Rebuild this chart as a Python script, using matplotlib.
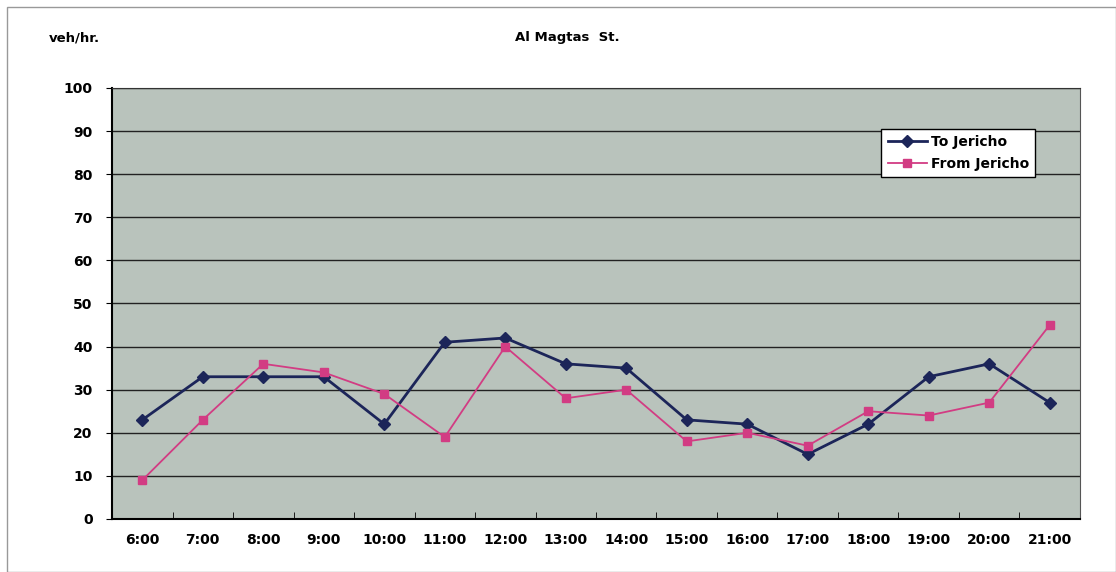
import matplotlib.pyplot as plt
from matplotlib.patches import Rectangle

hours = ['6:00', '7:00', '8:00', '9:00', '10:00', '11:00', '12:00', '13:00',
         '14:00', '15:00', '16:00', '17:00', '18:00', '19:00', '20:00', '21:00']
to_jericho = [23, 33, 33, 33, 22, 41, 42, 36, 35, 23, 22, 15, 22, 33, 36, 27]
from_jericho = [9, 23, 36, 34, 29, 19, 40, 28, 30, 18, 20, 17, 25, 24, 27, 45]

fig = plt.figure(figsize=(11.16, 5.72), dpi=100)
ax = fig.add_axes([0.1004, 0.0927, 0.8673, 0.7535])
ax.set_facecolor('#b9c3bc')

x = list(range(len(hours)))
ax.plot(x, to_jericho, color='#1c2559', marker='D', markersize=6, lw=2,
        label='To Jericho', zorder=3)
ax.plot(x, from_jericho, color='#d23c83', marker='s', markersize=6, lw=1.3,
        label='From Jericho', zorder=3)

ax.set_xlim(-0.5, len(hours) - 0.5)
ax.set_ylim(0, 100)
ax.set_yticks(range(0, 101, 10))
ax.set_xticks(x)
ax.set_xticklabels(hours, fontsize=10, fontweight='bold')
ax.set_xticks([i + 0.5 for i in x[:-1]], minor=True)
ax.tick_params(axis='x', which='major', length=0, pad=10)
ax.tick_params(axis='x', which='minor', direction='in', length=5, color='black')
ax.tick_params(axis='y', direction='out', length=4, labelsize=10, pad=10)
for t in ax.get_yticklabels():
    t.set_fontweight('bold')
ax.grid(axis='y', color='#222222', lw=1)
ax.set_axisbelow(True)
for s in ['left', 'bottom']:
    ax.spines[s].set_linewidth(1.5)
ax.spines['top'].set_color('#333333')
ax.spines['right'].set_color('#555555')

leg = ax.legend(loc='upper right', bbox_to_anchor=(0.961, 0.921), fancybox=False,
                edgecolor='black', framealpha=1, fontsize=10, handlelength=2.8,
                borderpad=0.45, labelspacing=0.55, handletextpad=0.3)
leg.get_frame().set_linewidth(1)
for t in leg.get_texts():
    t.set_fontweight('bold')

fig.text(0.508, 0.935, 'Al Magtas  St.', ha='center', va='center', fontsize=9.5,
         fontweight='semibold')
fig.text(0.067, 0.933, 'veh/hr.', ha='center', va='center', fontsize=9.5,
         fontweight='semibold')
fig.patches.append(Rectangle((0.006, 0.0), 0.994, 0.987, transform=fig.transFigure,
                             fill=False, edgecolor='#999999', lw=1))

fig.savefig('out.png', dpi=100)
